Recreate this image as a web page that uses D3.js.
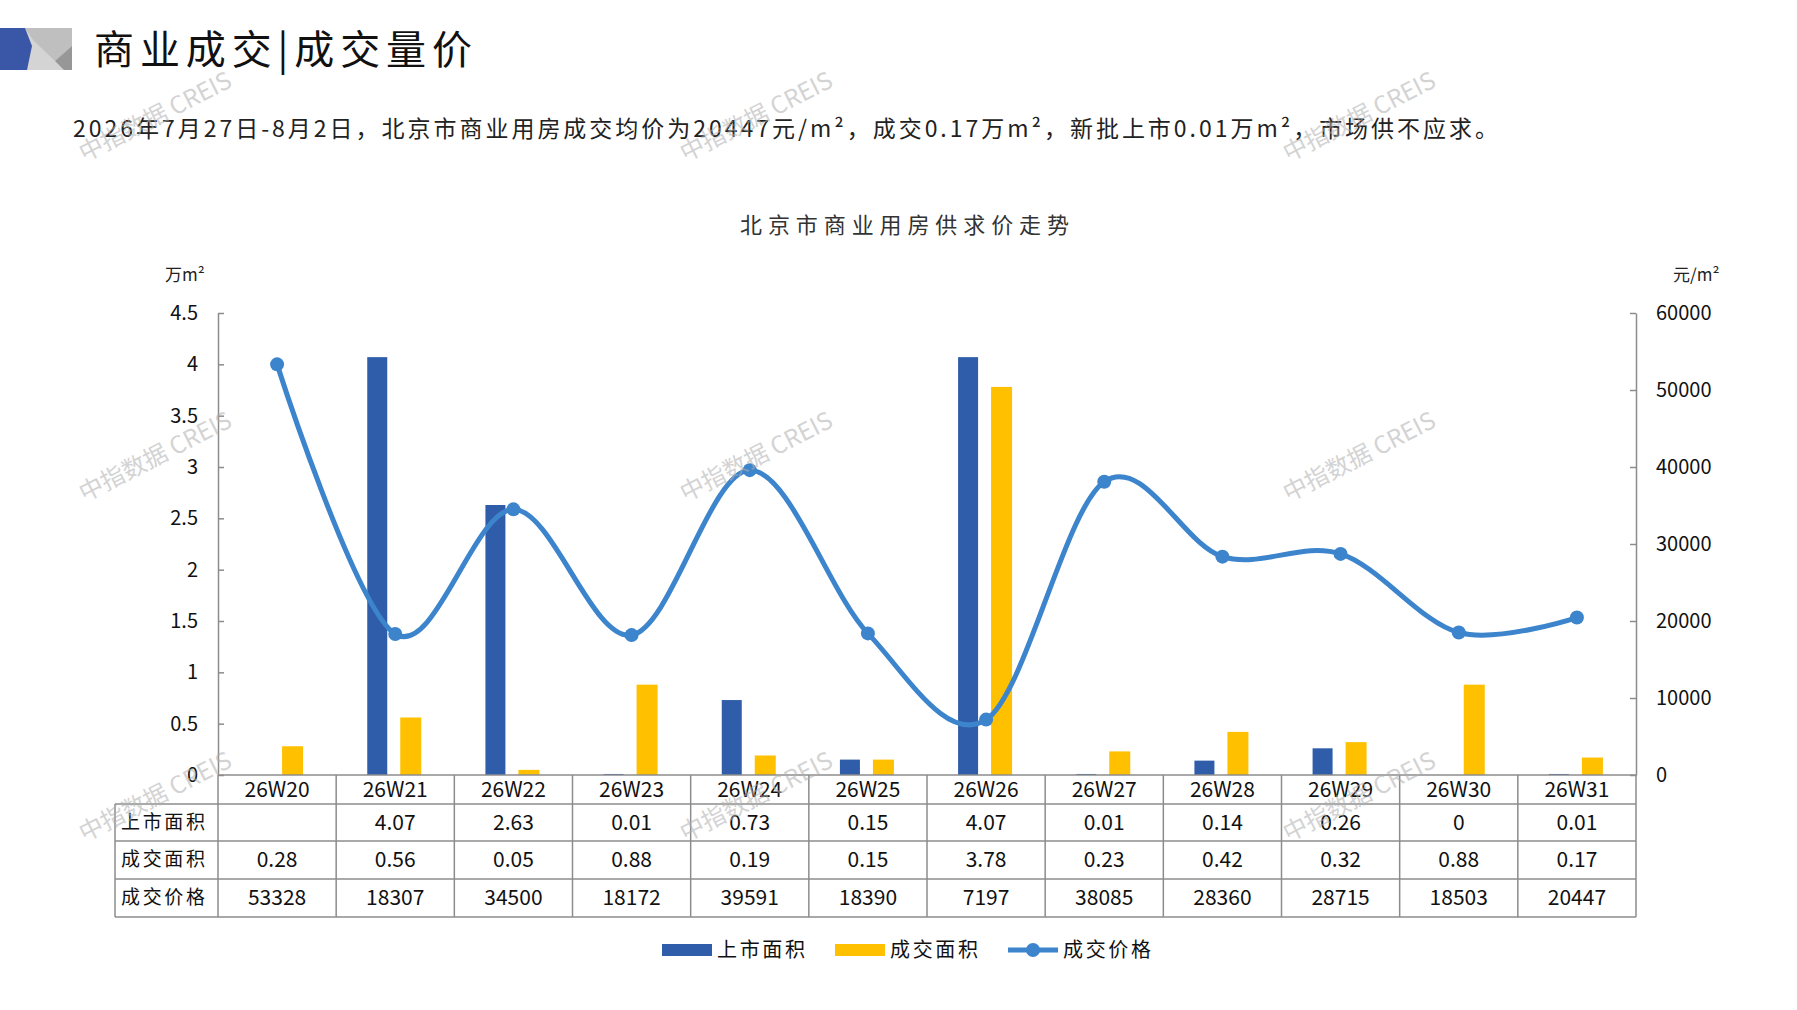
<!DOCTYPE html>
<html>
<head>
<meta charset="utf-8">
<script src="https://cdn.jsdelivr.net/npm/d3@7"></script>
<style>
  body { margin: 0; background: #fff; }
  text { font-family: "Noto Sans CJK SC", sans-serif; }
</style>
</head>
<body>
<main></main>
<script>
// chart data
var weeks = ["26W20", "26W21", "26W22", "26W23", "26W24", "26W25",
             "26W26", "26W27", "26W28", "26W29", "26W30", "26W31"];
var supply = [null, 4.07, 2.63, 0.01, 0.73, 0.15, 4.07, 0.01, 0.14, 0.26, 0, 0.01];
var deal = [0.28, 0.56, 0.05, 0.88, 0.19, 0.15, 3.78, 0.23, 0.42, 0.32, 0.88, 0.17];
var price = [53328, 18307, 34500, 18172, 39591, 18390, 7197, 38085, 28360, 28715, 18503, 20447];
var leftTicks = [0, 0.5, 1, 1.5, 2, 2.5, 3, 3.5, 4, 4.5];
var rightTicks = [0, 10000, 20000, 30000, 40000, 50000, 60000];
var rowLabels = ["上市面积", "成交面积", "成交价格"];
var seriesNames = ["上市面积", "成交面积", "成交价格"];

var w = 1797,
    h = 1010,
    plotL = 218,
    plotR = 1636,
    plotT = 313,
    base = 775,
    blue = "#2F5DA9",
    yellow = "#FFC000",
    lineCol = "#3C84CC",
    gridCol = "#8C8C8C";

var svg = d3.select("main")
            .append("svg")
            .attr("width", w)
            .attr("height", h);

svg.append("rect").attr("width", w).attr("height", h).attr("fill", "#fff");

// logo block in the top left corner
var logo = svg.append("g");
logo.append("rect").attr("x", 25).attr("y", 28).attr("width", 47).attr("height", 42).attr("fill", "#d4d4d4");
logo.append("polygon").attr("points", "25,28 72,28 72,46 55,61 33,40").attr("fill", "#bfbfbf");
logo.append("polygon").attr("points", "55,61 72,46 72,70 64,70").attr("fill", "#979797");
logo.append("polygon").attr("points", "0,28 25,28 32,46 27,70 0,70").attr("fill", "#3A57A7");

svg.append("text")
   .attr("x", 94).attr("y", 64)
   .attr("font-size", 40)
   .attr("textLength", 378)
   .attr("lengthAdjust", "spacing")
   .attr("fill", "#111")
   .text("商业成交|成交量价");

svg.append("text")
   .attr("x", 73).attr("y", 137)
   .attr("font-size", 23)
   .attr("textLength", 1425)
   .attr("lengthAdjust", "spacing")
   .attr("fill", "#222")
   .text("2026年7月27日-8月2日，北京市商业用房成交均价为20447元/m²，成交0.17万m²，新批上市0.01万m²，市场供不应求。");

svg.append("text")
   .attr("x", 740).attr("y", 233)
   .attr("font-size", 22)
   .attr("textLength", 329)
   .attr("lengthAdjust", "spacing")
   .attr("fill", "#333")
   .text("北京市商业用房供求价走势");

// unit labels
svg.append("text").attr("x", 165).attr("y", 281).attr("font-size", 17).attr("fill", "#222").text("万m²");
svg.append("text").attr("x", 1673).attr("y", 281).attr("font-size", 17).attr("fill", "#222").text("元/m²");

// scales
var x = d3.scaleBand().domain(weeks).range([plotL, plotR]);
var yL = d3.scaleLinear().domain([0, 4.5]).range([base, plotT]);
var yR = d3.scaleLinear().domain([0, 60000]).range([base, plotT]);
var bw = x.bandwidth();

// axes, ticks point inward
var axL = svg.append("g")
   .attr("transform", "translate(" + plotL + ",0)")
   .call(d3.axisLeft(yL).tickValues(leftTicks).tickSizeInner(-6).tickSizeOuter(0).tickPadding(20)
           .tickFormat(function (d) { return d; }));
var axR = svg.append("g")
   .attr("transform", "translate(" + plotR + ",0)")
   .call(d3.axisRight(yR).tickValues(rightTicks).tickSizeInner(-6).tickSizeOuter(0).tickPadding(20)
           .tickFormat(d3.format("d")));

[axL, axR].forEach(function (a) {
  a.selectAll("path, line").attr("stroke", gridCol).attr("stroke-width", 1.5);
  a.selectAll("text")
   .attr("font-family", "'Liberation Sans', Arial, sans-serif")
   .attr("font-size", 20)
   .attr("fill", "#111");
});

// bars
svg.selectAll("rect.sup")
   .data(weeks)
   .enter()
   .append("rect")
   .attr("class", "sup")
   .attr("x", function (d) { return x(d) + bw / 2 - 28; })
   .attr("y", function (d, i) { return yL(supply[i] || 0); })
   .attr("width", 20)
   .attr("height", function (d, i) { return base - yL(supply[i] || 0); })
   .attr("fill", blue);

svg.selectAll("rect.deal")
   .data(weeks)
   .enter()
   .append("rect")
   .attr("class", "deal")
   .attr("x", function (d) { return x(d) + bw / 2 + 5; })
   .attr("y", function (d, i) { return yL(deal[i]); })
   .attr("width", 21)
   .attr("height", function (d, i) { return base - yL(deal[i]); })
   .attr("fill", yellow);

// smoothed price line
var line = d3.line()
   .x(function (d, i) { return x(weeks[i]) + bw / 2; })
   .y(function (d) { return yR(d); })
   .curve(d3.curveCardinal.tension(0));

svg.append("path")
   .datum(price)
   .attr("d", line)
   .attr("fill", "none")
   .attr("stroke", lineCol)
   .attr("stroke-width", 5);

svg.selectAll("circle.pt")
   .data(price)
   .enter()
   .append("circle")
   .attr("class", "pt")
   .attr("cx", function (d, i) { return x(weeks[i]) + bw / 2; })
   .attr("cy", function (d) { return yR(d); })
   .attr("r", 7)
   .attr("fill", lineCol);

// data table under the chart
var rowY = [base, 804, 841, 879, 917];
var tbl = svg.append("g").attr("stroke", gridCol).attr("stroke-width", 1.5);
tbl.append("line").attr("x1", plotL).attr("x2", plotR).attr("y1", base).attr("y2", base);
rowY.slice(1).forEach(function (y) {
  tbl.append("line").attr("x1", 115).attr("x2", plotR).attr("y1", y).attr("y2", y);
});
tbl.append("line").attr("x1", 115).attr("x2", 115).attr("y1", rowY[1]).attr("y2", rowY[4]);
tbl.selectAll("line.col")
   .data(weeks.concat(["end"]))
   .enter()
   .append("line")
   .attr("x1", function (d) { return d === "end" ? plotR : x(d); })
   .attr("x2", function (d) { return d === "end" ? plotR : x(d); })
   .attr("y1", base)
   .attr("y2", rowY[4]);

var numFont = "'Liberation Sans Narrow', 'DejaVu Sans Condensed', 'Liberation Sans', sans-serif";

svg.selectAll("text.wk")
   .data(weeks)
   .enter()
   .append("text")
   .attr("class", "wk")
   .attr("x", function (d) { return x(d) + bw / 2; })
   .attr("y", (rowY[0] + rowY[1]) / 2 + 7)
   .attr("text-anchor", "middle")
   .attr("font-family", numFont)
   .attr("font-size", 21)
   .attr("fill", "#111")
   .text(function (d) { return d; });

var rows = [supply, deal, price];
rows.forEach(function (vals, r) {
  var cy = (rowY[r + 1] + rowY[r + 2]) / 2 + 7;
  svg.append("text")
     .attr("x", 121).attr("y", cy - 1)
     .attr("font-size", 19)
     .attr("textLength", 84)
     .attr("lengthAdjust", "spacing")
     .attr("fill", "#111")
     .text(rowLabels[r]);
  svg.selectAll("text.r" + r)
     .data(vals)
     .enter()
     .append("text")
     .attr("class", "r" + r)
     .attr("x", function (d, i) { return x(weeks[i]) + bw / 2; })
     .attr("y", cy)
     .attr("text-anchor", "middle")
     .attr("font-family", numFont)
     .attr("font-size", 21)
     .attr("fill", "#111")
     .text(function (d) { return d === null ? "" : d; });
});

// legend
var lg = svg.append("g").attr("transform", "translate(0,950)");
var lgX = [662, 835, 1008];
seriesNames.forEach(function (name, i) {
  if (i < 2) {
    lg.append("rect").attr("x", lgX[i]).attr("y", -6).attr("width", 50).attr("height", 12)
      .attr("fill", i === 0 ? blue : yellow);
  } else {
    lg.append("line").attr("x1", lgX[i]).attr("x2", lgX[i] + 50).attr("y1", 0).attr("y2", 0)
      .attr("stroke", lineCol).attr("stroke-width", 5);
    lg.append("circle").attr("cx", lgX[i] + 25).attr("cy", 0).attr("r", 7).attr("fill", lineCol);
  }
  lg.append("text")
    .attr("x", lgX[i] + 55).attr("y", 7)
    .attr("font-size", 20)
    .attr("textLength", 88)
    .attr("lengthAdjust", "spacing")
    .attr("fill", "#111")
    .text(name);
});

// CREIS watermarks
var markX = [159, 760, 1363],
    markY = [124, 464, 804];
markY.forEach(function (my) {
  markX.forEach(function (mx) {
    svg.append("text")
       .attr("transform", "translate(" + mx + "," + my + ") rotate(-27)")
       .attr("text-anchor", "middle")
       .attr("font-size", 24)
       .attr("fill", "#b0b0b0")
       .attr("opacity", 0.55)
       .text("中指数据 CREIS");
  });
});
</script>
</body>
</html>
